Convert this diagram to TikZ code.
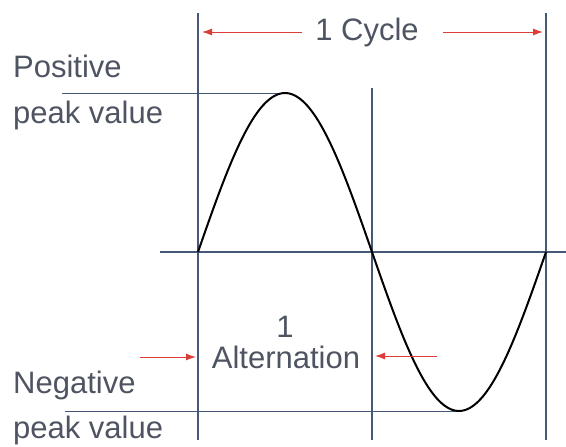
\documentclass[tikz,border=0pt]{standalone}
\usepackage{fontspec}
\setmainfont{Liberation Sans}
\usetikzlibrary{arrows,arrows.meta,positioning,calc}
\definecolor{gridblue}{RGB}{70,88,120}
\definecolor{inkgrey}{RGB}{78,84,98}
\definecolor{arrowred}{RGB}{222,60,55}
\tikzset{
  guide/.style={color=gridblue,line width=1.3pt},
  marker/.style={color=arrowred,line width=1pt,arrows={-Latex[length=10pt,width=7pt]}},
  caption/.style={color=inkgrey,anchor=base,inner sep=0pt,font=\fontsize{31}{36}\selectfont},
  wave/.style={color=black,line width=2pt}
}

\begin{document}
\begin{tikzpicture}[x=1pt,y=-1pt]
\useasboundingbox (0,0) rectangle (566,447);
% grid lines
\coordinate (L0) at (198,13);
\coordinate (L1) at (198,440);
\coordinate (M0) at (372,88);
\coordinate (M1) at (372,440);
\coordinate (R0) at (546,13);
\coordinate (R1) at (546,440);
\coordinate (A0) at (160,252);
\coordinate (A1) at (566,252);
\draw[guide] (L0) -- (L1);
\draw[guide] (M0) -- (M1);
\draw[guide] (R0) -- (R1);
\draw[guide] (A0) -- (A1);
% peaks
\coordinate (crest) at (285,93);
\coordinate (trough) at (459,411);
\coordinate (P0) at (62,93);
\coordinate (N0) at (65,411);
\draw[guide,line width=1pt] (P0) -- (crest);
\draw[guide,line width=1pt] (N0) -- (trough);
\draw[wave] plot[domain=0:348,samples=120,smooth] ({198+\x},{252-159*sin(\x/348*360)});
% labels
\node[caption] (cycle) at (367,40) {1 Cycle};
\node[caption,anchor=base west] (pos) at (13,77) {Positive};
\node[caption,anchor=base west] (posv) at (13,123) {peak value};
\node[caption,anchor=base west] (neg) at (13,393) {Negative};
\node[caption,anchor=base west] (negv) at (13,438) {peak value};
\node[caption] (one) at (285,337) {1};
\node[caption] (alt) at (286,368) {Alternation};
% arrows
\coordinate (c0) at (302,32);
\coordinate (c1) at (202,32);
\coordinate (c2) at (443,32);
\coordinate (c3) at (543,32);
\draw[marker] (c0) -- (c1);
\draw[marker] (c2) -- (c3);
\coordinate (a0) at (140,357);
\coordinate (a1) at (196,357);
\coordinate (a2) at (437,356);
\coordinate (a3) at (375,356);
\draw[marker] (a0) -- (a1);
\draw[marker] (a2) -- (a3);
\end{tikzpicture}
\end{document}
